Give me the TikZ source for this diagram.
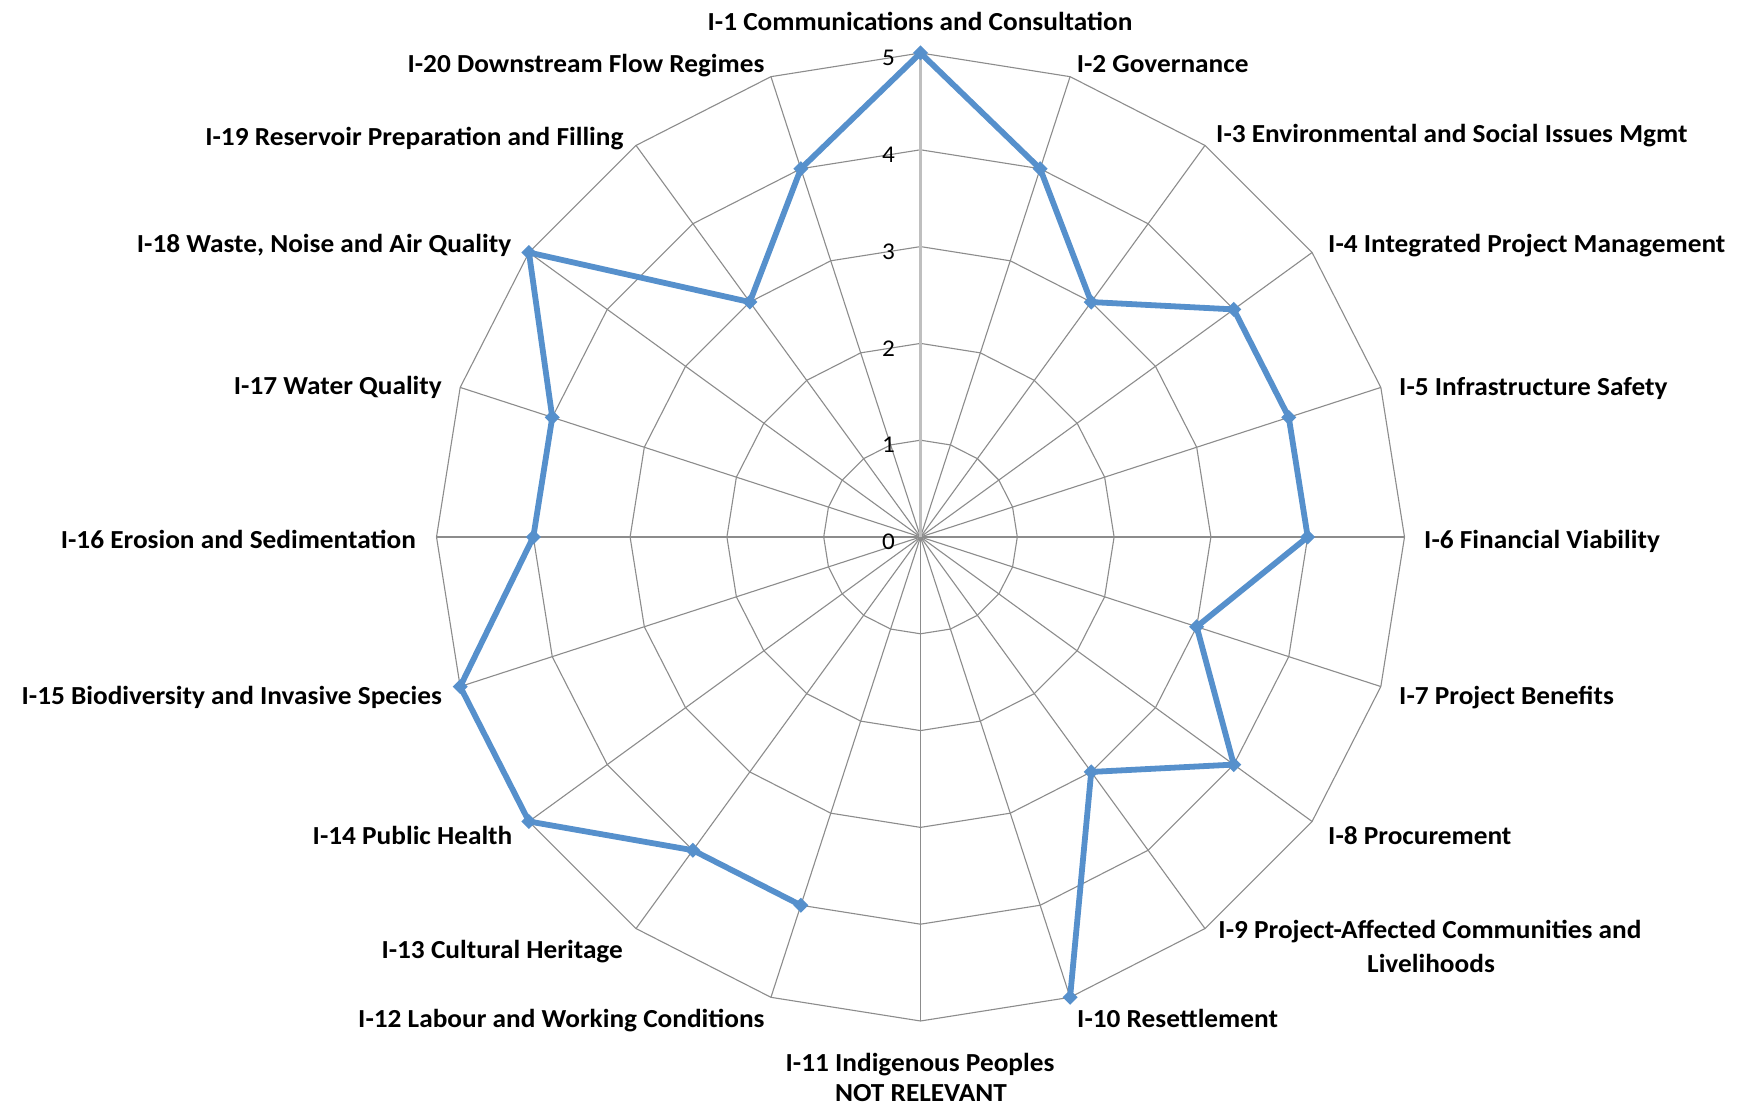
\documentclass[tikz,border=0pt]{standalone}
\usepackage{fontspec}
\setmainfont{Carlito}[FakeStretch=1.05]
\definecolor{serieblue}{RGB}{86,144,204}
\definecolor{gridgray}{RGB}{140,140,140}
\definecolor{axisgray}{RGB}{191,191,191}
\begin{document}
\begin{tikzpicture}[x=1pt,y=1pt,
  lbl/.style={font=\fontsize{26}{30}\selectfont\bfseries, inner sep=0pt, text height=16.7pt, text depth=0pt},
  ticklbl/.style={font=\fontsize{24}{28}\selectfont, inner sep=0pt, text height=15.5pt, text depth=0pt, anchor=east},
  gridline/.style={draw=gridgray, line width=1.1pt},
  axisline/.style={draw=axisgray, line width=2.6pt},
  series/.style={draw=serieblue, line width=5.8pt, line join=round, line cap=round},
  marker/.style={fill=serieblue}]
\useasboundingbox (0,0) rectangle (1744,1105);
\fill[white] (0,0) rectangle (1744,1105);
\begin{scope}[shift={(920.5,568)}]
  \coordinate (C) at (0,0);
  % rings
  \foreach \r in {1,...,5}
    \draw[gridline, line join=miter] (90:{\r*96.8}) \foreach \k in {1,...,19} { -- ({90-\k*18}:{\r*96.8}) } -- cycle;
  % spokes
  \foreach \k in {1,...,19}
    \draw[gridline] (C) -- ({90-\k*18}:{5*96.8});
  \draw[axisline] (C) -- (90:{5*96.8});
  % tick labels
  \foreach \r in {0,...,5}
    \node[ticklbl] (tick\r) at (-25.5,{\r*96.8-5}) {\r};
  % data points
  \foreach \k/\v in {1/5,2/4,3/3,4/4,5/4,6/4,7/3,8/4,9/3,10/5,12/4,13/4,14/5,15/5,16/4,17/4,18/5,19/3,20/4}
    \coordinate (p\k) at ({90-(\k-1)*18}:{\v*96.8});
\end{scope}
\draw[series] (p12) -- (p13) -- (p14) -- (p15) -- (p16) -- (p17) -- (p18) -- (p19) -- (p20) -- (p1) -- (p2) -- (p3) -- (p4) -- (p5) -- (p6) -- (p7) -- (p8) -- (p9) -- (p10);
\foreach \k in {1,...,10,12,13,...,20}
  \fill[marker] (p\k) +(0,7.5) -- +(7.5,0) -- +(0,-7.5) -- +(-7.5,0) -- cycle;
% labels
\node[lbl, anchor=center] (l1) at (920,1083) {I-1 Communications and Consultation};
\node[lbl, anchor=west] (l2) at (1076.6,1041.3) {I-2 Governance};
\node[lbl, anchor=west] (l3) at (1216,971) {I-3 Environmental and Social Issues Mgmt};
\node[lbl, anchor=west] (l4) at (1328,861) {I-4 Integrated Project Management};
\node[lbl, anchor=west] (l5) at (1399,718.3) {I-5 Infrastructure Safety};
\node[lbl, anchor=west] (l6) at (1424,565) {I-6 Financial Viability};
\node[lbl, anchor=west] (l7) at (1399,409) {I-7 Project Benefits};
\node[lbl, anchor=west] (l8) at (1328,269) {I-8 Procurement};
\node[lbl, anchor=center] (l9a) at (1430,175) {I-9 Project-Affected Communities and};
\node[lbl, anchor=center] (l9b) at (1431,141) {Livelihoods};
\node[lbl, anchor=west] (l10) at (1077,86) {I-10 Resettlement};
\node[lbl, anchor=center] (l11a) at (920,42) {I-11 Indigenous Peoples};
\node[lbl, anchor=center] (l11b) at (921,12) {NOT RELEVANT};
\node[lbl, anchor=east] (l12) at (764.7,86) {I-12 Labour and Working Conditions};
\node[lbl, anchor=east] (l13) at (623,155) {I-13 Cultural Heritage};
\node[lbl, anchor=east] (l14) at (512.5,269) {I-14 Public Health};
\node[lbl, anchor=east] (l15) at (442,409) {I-15 Biodiversity and Invasive Species};
\node[lbl, anchor=east] (l16) at (416,565) {I-16 Erosion and Sedimentation};
\node[lbl, anchor=east] (l17) at (442,718.5) {I-17 Water Quality};
\node[lbl, anchor=east] (l18) at (511.4,861) {I-18 Waste, Noise and Air Quality};
\node[lbl, anchor=east] (l19) at (623.7,968.3) {I-19 Reservoir Preparation and Filling};
\node[lbl, anchor=east] (l20) at (764.7,1041) {I-20 Downstream Flow Regimes};
\end{tikzpicture}
\end{document}
